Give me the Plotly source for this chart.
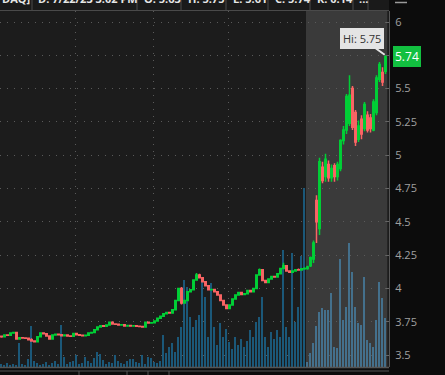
import plotly.graph_objects as go

# ---------------- data ----------------
opens = [3.640,3.637,3.650,3.648,3.665,3.668,3.620,3.630,3.628,3.625,3.615,3.605,3.600,3.637,3.665,3.660,3.642,3.620,3.650,3.655,
         3.652,3.645,3.650,3.643,3.640,3.662,3.652,3.648,3.645,3.648,3.665,3.668,3.690,3.710,3.720,3.716,3.725,3.745,3.733,3.730,
         3.725,3.727,3.718,3.722,3.718,3.720,3.716,3.714,3.710,3.745,3.740,3.742,3.755,3.775,3.790,3.810,3.820,3.815,3.840,3.910,
         4.000,3.890,3.910,3.975,3.990,4.063,4.100,4.080,4.050,4.020,3.990,3.992,3.975,3.950,3.910,3.875,3.850,3.875,3.920,3.950,
         3.970,3.955,3.960,3.985,3.975,4.000,4.100,4.140,4.060,4.045,4.070,4.090,4.085,4.110,4.150,4.170,4.130,4.122,4.130,4.140,
         4.138,4.148,
         4.150,4.170,4.220,4.660,4.450,4.910,4.840,4.930,4.830,4.920,4.840,4.900,5.110,5.190,5.240,5.500,5.320,5.120,5.270,5.200,
         5.300,5.280,5.190,5.320,5.570,5.620,5.630]
highs = [3.645,3.655,3.655,3.670,3.672,3.670,3.635,3.635,3.632,3.630,3.625,3.610,3.640,3.668,3.668,3.662,3.645,3.652,3.660,3.660,
         3.656,3.652,3.652,3.648,3.664,3.665,3.656,3.652,3.650,3.668,3.670,3.692,3.712,3.722,3.726,3.728,3.748,3.748,3.736,3.732,
         3.730,3.730,3.724,3.725,3.722,3.724,3.720,3.718,3.748,3.748,3.745,3.758,3.778,3.792,3.812,3.824,3.824,3.842,3.912,4.005,
         4.010,3.915,3.978,3.995,4.066,4.115,4.110,4.085,4.055,4.025,3.998,3.996,3.980,3.955,3.915,3.880,3.880,3.925,3.955,3.975,
         3.975,3.965,3.988,3.990,4.005,4.105,4.150,4.145,4.065,4.075,4.092,4.095,4.112,4.152,4.192,4.175,4.135,4.135,4.145,4.150,
         4.152,4.158,
         4.170,4.240,4.360,4.700,4.980,4.950,5.010,4.960,4.930,4.940,4.950,5.120,5.220,5.460,5.600,5.520,5.340,5.260,5.300,5.400,
         5.330,5.310,5.420,5.600,5.700,5.660,5.750]
lows = [3.630,3.635,3.645,3.645,3.660,3.615,3.615,3.622,3.620,3.612,3.600,3.595,3.598,3.635,3.655,3.640,3.615,3.618,3.645,3.648,
        3.640,3.642,3.640,3.636,3.638,3.650,3.645,3.640,3.640,3.645,3.660,3.665,3.688,3.706,3.712,3.714,3.722,3.730,3.726,3.722,
        3.720,3.716,3.714,3.715,3.712,3.714,3.710,3.706,3.708,3.736,3.735,3.740,3.752,3.772,3.788,3.806,3.812,3.812,3.838,3.905,
        3.880,3.885,3.905,3.970,3.985,4.060,4.075,4.045,4.015,3.985,3.985,3.972,3.945,3.905,3.870,3.845,3.845,3.870,3.915,3.945,
        3.950,3.950,3.955,3.970,3.970,3.995,4.095,4.055,4.040,4.040,4.065,4.080,4.082,4.105,4.145,4.125,4.118,4.118,4.126,4.132,
        4.134,4.140,
        4.140,4.160,4.190,4.340,4.400,4.790,4.800,4.800,4.800,4.800,4.810,4.880,5.080,5.160,5.220,5.190,5.070,5.100,5.120,5.180,
        5.170,5.170,5.180,5.300,5.550,5.520,5.610]
closes = [3.637,3.650,3.648,3.665,3.668,3.620,3.630,3.628,3.625,3.615,3.605,3.600,3.637,3.665,3.660,3.642,3.620,3.650,3.655,3.652,
          3.645,3.650,3.643,3.640,3.662,3.652,3.648,3.645,3.648,3.665,3.668,3.690,3.710,3.720,3.716,3.725,3.745,3.733,3.730,3.725,
          3.727,3.718,3.722,3.718,3.720,3.716,3.714,3.710,3.745,3.740,3.742,3.755,3.775,3.790,3.810,3.820,3.815,3.840,3.910,4.000,
          3.890,3.910,3.975,3.990,4.063,4.100,4.080,4.050,4.020,3.990,3.992,3.975,3.950,3.910,3.875,3.850,3.875,3.920,3.950,3.970,
          3.955,3.960,3.985,3.975,4.000,4.100,4.140,4.060,4.045,4.070,4.090,4.085,4.110,4.150,4.170,4.130,4.122,4.130,4.140,4.138,
          4.148,4.150,
          4.160,4.230,4.340,4.500,4.950,4.810,4.970,4.830,4.900,4.840,4.930,5.110,5.190,5.440,5.450,5.210,5.100,5.220,5.160,5.380,
          5.190,5.200,5.400,5.580,5.680,5.550,5.740]
volume_k = [3,2,4,2,3,2,24,3,2,8,41,6,4,2,3,5,2,4,6,3,42,10,3,5,6,12,3,4,10,6,4,9,15,13,7,3,5,4,12,6,4,3,6,8,8,5,4,12,3,10,9,
            5,4,6,32,14,20,24,15,30,40,87,80,50,40,47,52,85,70,30,84,40,22,44,30,38,25,18,30,22,28,20,26,37,30,45,50,70,30,20,35,
            28,37,30,117,40,30,114,45,60,111,179,
            5,14,24,41,55,59,57,57,74,20,19,108,47,60,124,95,60,44,42,90,27,24,20,47,85,69,49]
EXT_START = 102            # first after-hours bar
price_ticks = [3.5, 3.75, 4, 4.25, 4.5, 4.75, 5, 5.25, 5.5, 5.75, 6]
price_tick_text = ["3.5", "3.75", "4", "4.25", "4.5", "4.75", "5", "5.25", "5.5", "", "6"]  # 5.75 hidden under price tag
header_items = ["DAQ]", "D: 7/22/23 3:02 PM", "O: 5.63", "H: 5.75", "L: 5.61", "C: 5.74", "R: 0.14", "..."]
hi_value = 5.75
last_value = closes[-1]

idx = list(range(len(closes)))

# ---------------- styling ----------------
W, H = 445, 375
ML, MR, MT, MB = 0, 56, 11, 8
PW, PH = W - ML - MR, H - MT - MB
GREEN = "#00cf36"
RED = "#fa6464"
GRID = "#5a5a5a"
FONT = "Open Sans"

def px_x(px):      # pixel -> paper x
    return (px - ML) / PW

def px_y(py):      # pixel -> paper y
    return (H - MB - py) / PH

vol_colors = ["#1b5879" if i < EXT_START else "#44708c" for i in idx]

fig = go.Figure()
fig.add_trace(go.Bar(x=idx, y=volume_k, marker=dict(color=vol_colors, line=dict(width=0)),
                     width=0.55, yaxis="y", hoverinfo="skip", showlegend=False))
fig.add_trace(go.Candlestick(x=idx, open=opens, high=highs, low=lows, close=closes, yaxis="y2",
                             increasing=dict(line=dict(color=GREEN, width=1.5), fillcolor="rgba(0,0,0,0)"),
                             decreasing=dict(line=dict(color=RED, width=1.5), fillcolor=RED),
                             whiskerwidth=0, hoverinfo="skip", showlegend=False))

shapes = []
# after-hours shading
shapes.append(dict(type="rect", xref="x", yref="paper", x0=EXT_START - 0.5, x1=len(idx) - 0.4,
                   y0=0, y1=1, fillcolor="#3a3a3a", line=dict(width=0), layer="below"))
# header bar
shapes.append(dict(type="rect", xref="paper", yref="paper", x0=0, x1=1, y0=1, y1=px_y(-2),
                   fillcolor="#1a1a1a", line=dict(width=0), layer="below"))
shapes.append(dict(type="line", xref="paper", yref="paper", x0=0, x1=1, y0=px_y(10.5), y1=px_y(10.5),
                   line=dict(color="#4a4a4a", width=1)))
for sx in [32, 137, 181, 226, 268, 310, 353, 368]:
    shapes.append(dict(type="line", xref="paper", yref="paper", x0=px_x(sx), x1=px_x(sx),
                       y0=px_y(0), y1=px_y(10.5), line=dict(color="#4a4a4a", width=1)))
# small icon at top right
shapes.append(dict(type="line", xref="paper", yref="paper", x0=px_x(395), x1=px_x(407),
                   y0=px_y(2.5), y1=px_y(2.5), line=dict(color="#9a9a9a", width=1.5)))
# bottom time-axis strip
shapes.append(dict(type="line", xref="paper", yref="paper", x0=0, x1=1, y0=px_y(367.5), y1=px_y(367.5),
                   line=dict(color="#555555", width=1.5)))
shapes.append(dict(type="line", xref="paper", yref="paper", x0=0, x1=1, y0=px_y(371), y1=px_y(371),
                   line=dict(color="#555555", width=1)))
for tx in [79, 127, 148, 169]:
    shapes.append(dict(type="line", xref="paper", yref="paper", x0=px_x(tx), x1=px_x(tx),
                       y0=px_y(371), y1=px_y(376), line=dict(color="#555555", width=1)))

annotations = []
header_x = [0, 36, 142, 186, 231, 273, 315, 357]
for hx, txt in zip(header_x, header_items):
    annotations.append(dict(text="<b>%s</b>" % txt, xref="paper", yref="paper", x=px_x(hx), y=px_y(8.5),
                            xanchor="left", yanchor="bottom", showarrow=False,
                            font=dict(family=FONT, size=11, color="#e6e6e6")))
# Hi callout
annotations.append(dict(text="Hi: %.2f" % hi_value, x=idx[-1], y=hi_value, xref="x", yref="y2",
                        ax=-24, ay=-17, showarrow=True, arrowhead=0, arrowwidth=2, arrowcolor="#e4e4e4",
                        standoff=1, bgcolor="#e4e4e4", bordercolor="#e4e4e4", borderpad=2,
                        font=dict(family=FONT, size=11, color="#333333")))
# last price tag
annotations.append(dict(text="%.2f" % last_value, x=1, y=last_value, xref="paper", yref="y2",
                        xanchor="left", yanchor="middle", xshift=4, showarrow=False,
                        bgcolor="#12c040", bordercolor="#12c040", borderpad=1,
                        font=dict(family=FONT, size=12, color="#ffffff")))

fig.update_layout(
    width=W, height=H, margin=dict(l=ML, r=MR, t=MT, b=MB, autoexpand=False),
    paper_bgcolor="#0c0c0c", plot_bgcolor="#1c1c1c",
    showlegend=False, bargap=0,
    xaxis=dict(range=[-0.5, PW / 3 - 0.5], showticklabels=False, ticks="",
               tickvals=[24.83, 50.5, 75.83], showgrid=True, gridcolor=GRID, griddash="1px,6px",
               gridwidth=1, zeroline=False, showline=False, rangeslider=dict(visible=False), fixedrange=True),
    yaxis=dict(range=[0, PH], visible=False, fixedrange=True),
    yaxis2=dict(overlaying="y", side="right", range=[6 - (H - MB - 22) / 133.2, 6 + (22 - MT) / 133.2],
                tickvals=price_ticks, ticktext=price_tick_text, showgrid=True, gridcolor=GRID,
                griddash="1px,6px", gridwidth=1, zeroline=False, showline=True, linecolor="#555555",
                linewidth=1, ticks="inside", ticklen=3, tickcolor="#666666",
                tickfont=dict(family=FONT, size=11, color="#a0a0a0"), ticklabelstandoff=3, fixedrange=True),
    shapes=shapes, annotations=annotations,
)

fig.write_html("out.html", config={"displayModeBar": False},
               post_script="document.body.style.margin='0';document.body.style.background='#0c0c0c';")
